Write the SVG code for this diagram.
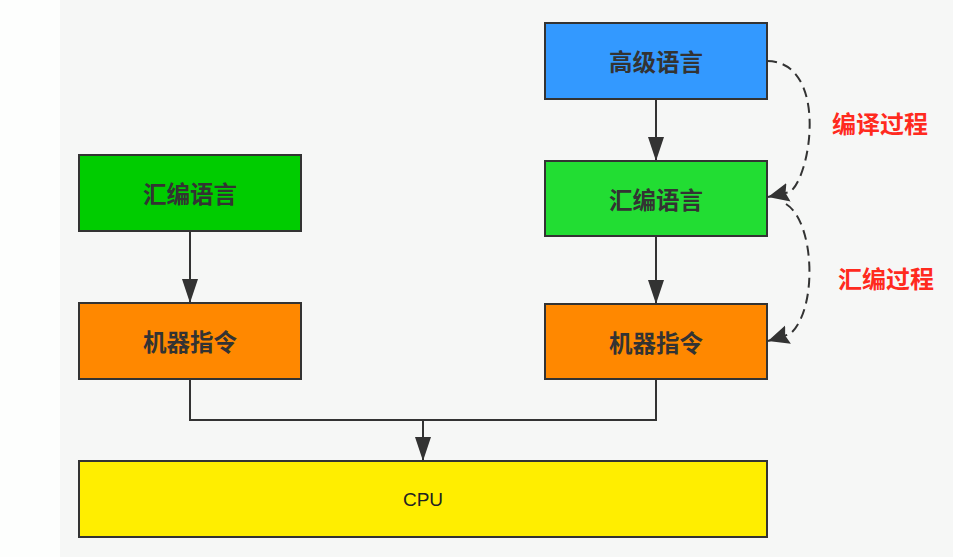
<svg xmlns="http://www.w3.org/2000/svg" width="953" height="557" viewBox="0 0 953 557">
<style>
.box{stroke:#333;stroke-width:2}
.lbl{font-family:"Noto Sans CJK SC","Noto Sans",sans-serif;font-size:23.5px;font-weight:bold;fill:#333;text-anchor:middle;dominant-baseline:central}
.red{font-family:"Noto Sans CJK SC","Noto Sans",sans-serif;font-size:24px;font-weight:bold;fill:#ff2a1e;text-anchor:start;dominant-baseline:central}
.cpu{font-family:"Liberation Sans",Arial,sans-serif;font-size:19px;fill:#222;text-anchor:middle;dominant-baseline:central}
.ln{fill:none;stroke:#333;stroke-width:2}
.dash{fill:none;stroke:#333;stroke-width:2;stroke-dasharray:10 6}
</style>
<defs>
<marker id="ah" markerUnits="userSpaceOnUse" markerWidth="26" markerHeight="20" refX="24" refY="8" orient="auto">
<path d="M0,0 L24,8 L0,16 Z" fill="#333"/>
</marker>
<marker id="ahc" markerUnits="userSpaceOnUse" markerWidth="24" markerHeight="22" refX="21" refY="9.5" orient="auto">
<path d="M0,0 L21,9.5 L0,19 L3,9.5 Z" fill="#333"/>
</marker>
</defs>
<rect x="0" y="0" width="953" height="557" fill="#f6f7f6"/>
<rect x="0" y="0" width="60" height="557" fill="#fdfefd"/>
<g id="connectors">
<path class="ln" d="M656,99 L656,161" marker-end="url(#ah)"/>
<path class="ln" d="M656,236 L656,304" marker-end="url(#ah)"/>
<path class="ln" d="M190,231 L190,303" marker-end="url(#ah)"/>
<path class="ln" d="M190,379 L190,420 L656,420 L656,379"/>
<path class="ln" d="M423,420 L423,461" marker-end="url(#ah)"/>
<path class="dash" d="M767,61 C828,62 812,175 790,192 L768,197" marker-end="url(#ahc)"/>
<path class="dash" d="M786,204 C815,222 818,310 790,334 L768,341" marker-end="url(#ahc)"/>
</g>
<g id="n-gaoji"><rect class="box" x="545" y="23" width="222" height="76" fill="#3399ff"/><text class="lbl" x="656" y="61">高级语言</text></g>
<g id="n-huibian-r"><rect class="box" x="545" y="161" width="222" height="75" fill="#22dd33"/><text class="lbl" x="656" y="198.5">汇编语言</text></g>
<g id="n-jiqi-r"><rect class="box" x="545" y="304" width="222" height="75" fill="#ff8800"/><text class="lbl" x="656" y="341.5">机器指令</text></g>
<g id="n-huibian-l"><rect class="box" x="79" y="155" width="222" height="76" fill="#00cc00"/><text class="lbl" x="190" y="193">汇编语言</text></g>
<g id="n-jiqi-l"><rect class="box" x="79" y="303" width="222" height="76" fill="#ff8800"/><text class="lbl" x="190" y="341">机器指令</text></g>
<g id="n-cpu"><rect class="box" x="79" y="461" width="688" height="76" fill="#ffee00"/><text class="cpu" x="423" y="499">CPU</text></g>
<g id="labels">
<text class="red" x="832" y="122">编译过程</text>
<text class="red" x="838" y="277">汇编过程</text>
</g>
</svg>
